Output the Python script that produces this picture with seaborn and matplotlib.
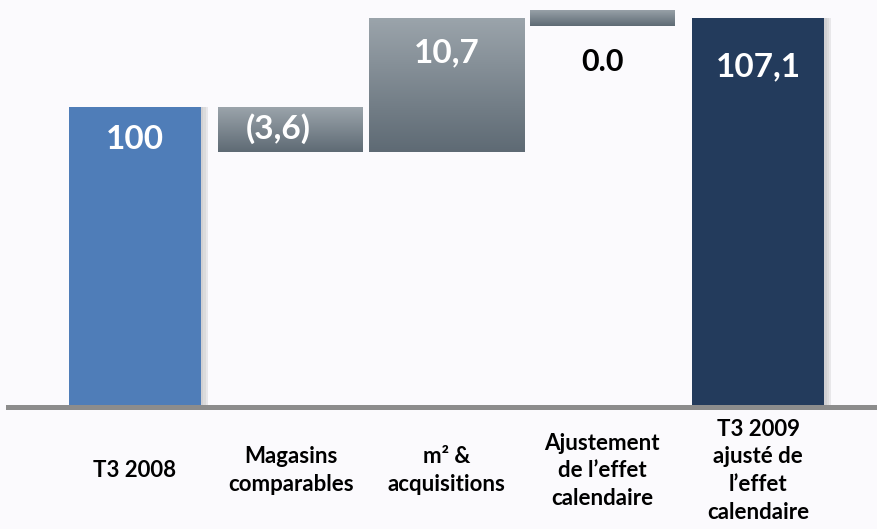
import numpy as np
import pandas as pd
import matplotlib
matplotlib.use("Agg")
import matplotlib.pyplot as plt
from matplotlib.colors import LinearSegmentedColormap
import seaborn as sns

# ---- data ----
categories = ["T3 2008", "Magasins\ncomparables", "m² &\nacquisitions",
              "Ajustement\nde l’effet\ncalendaire", "T3 2009\najusté de\nl’effet\ncalendaire"]
start_value = 100.0
changes = [-3.6, 10.7, 0.0]
end_value = 107.1
value_labels = ["100", "(3,6)", "10,7", "0.0", "107,1"]

# ---- style ----
sns.set_theme(style="white")
plt.rcParams["font.family"] = ["Lato", "DejaVu Sans"]
plt.rcParams["font.weight"] = "bold"
BG = "#FBFAFD"
total_colors = {categories[0]: "#4F7DB8", categories[4]: "#233B5C"}
grad_top, grad_bot = "#9BA4AB", "#5E6A74"

fig = plt.figure(figsize=(8.78, 5.29), dpi=100, facecolor=BG)
ax = fig.add_axes([8 / 878, (529 - 407) / 529, 870 / 878, 407 / 529])
ax.set_facecolor(BG)

y_min, y_max = 76.0, 108.56

# shadows for total bars
for i, v in [(0, start_value), (4, end_value)]:
    for k, a in enumerate([0.10, 0.12, 0.15]):
        off = 0.015 + 0.015 * k
        ax.bar(i + off, v - y_min, bottom=y_min, width=0.85, color="#808080",
               alpha=a, zorder=1, linewidth=0)

# totals through seaborn
totals = pd.DataFrame({"cat": [categories[0], categories[4]],
                       "value": [start_value, end_value]})
sns.barplot(data=totals, x="cat", y="value", order=categories, hue="cat",
            palette=total_colors, width=0.85, legend=False, ax=ax,
            saturation=1, zorder=3, linewidth=0)

# floating bars
levels = [start_value]
for c in changes:
    levels.append(levels[-1] + c)
cmap = LinearSegmentedColormap.from_list("g", [grad_bot, grad_top])
grad = np.linspace(0, 1, 256).reshape(-1, 1)
min_h = 1.3
for j, c in enumerate(changes):
    pos = j + 1
    lo, hi = sorted([levels[j], levels[j + 1]])
    if hi - lo < min_h:
        mid = levels[j]
        lo, hi = mid - min_h / 2, mid + min_h / 2
    w = 1.0 if j == 1 else 0.93
    bars = ax.bar(pos, hi - lo, bottom=lo, width=w, color="none", linewidth=0, zorder=3)
    p = bars.patches[0]
    im = ax.imshow(grad, extent=[pos - w / 2, pos + w / 2, lo, hi], origin="lower",
                   cmap=cmap, aspect="auto", zorder=3)
    im.set_clip_path(p)

# value labels
fs = 24
ax.text(0, start_value - 2.6, value_labels[0], color="white", fontsize=fs,
        fontweight="bold", ha="center", va="center", zorder=5)
ax.text(1 - 0.08, (levels[0] + levels[1]) / 2 + 0.1, value_labels[1], color="white",
        fontsize=fs, fontweight="bold", ha="center", va="center", zorder=5)
ax.text(2, levels[2] - 2.8, value_labels[2], color="white", fontsize=fs,
        fontweight="bold", ha="center", va="center", zorder=5)
ax.text(3, levels[3] - 3.5, value_labels[3], color="black", fontsize=22,
        fontweight="bold", ha="center", va="center", zorder=5)
ax.text(4, end_value - 3.9, value_labels[4], color="white", fontsize=fs,
        fontweight="bold", ha="center", va="center", zorder=5)

# axes
ax.set_xlim(-0.815, 4.77)
ax.set_ylim(y_min, y_max)
ax.set_xlabel("")
ax.set_ylabel("")
ax.set_yticks([])
ax.set_xticks(range(len(categories)))
ax.set_xticklabels(categories, fontsize=16, fontweight="bold", color="black",
                   va="center", linespacing=1.4)
ax.tick_params(axis="x", length=0, pad=46)
for s in ["top", "right", "left"]:
    ax.spines[s].set_visible(False)
ax.spines["bottom"].set_color("#8C8C8C")
ax.spines["bottom"].set_linewidth(3.6)
ax.spines["bottom"].set_zorder(6)

fig.savefig("out.png", dpi=100, facecolor=BG)
